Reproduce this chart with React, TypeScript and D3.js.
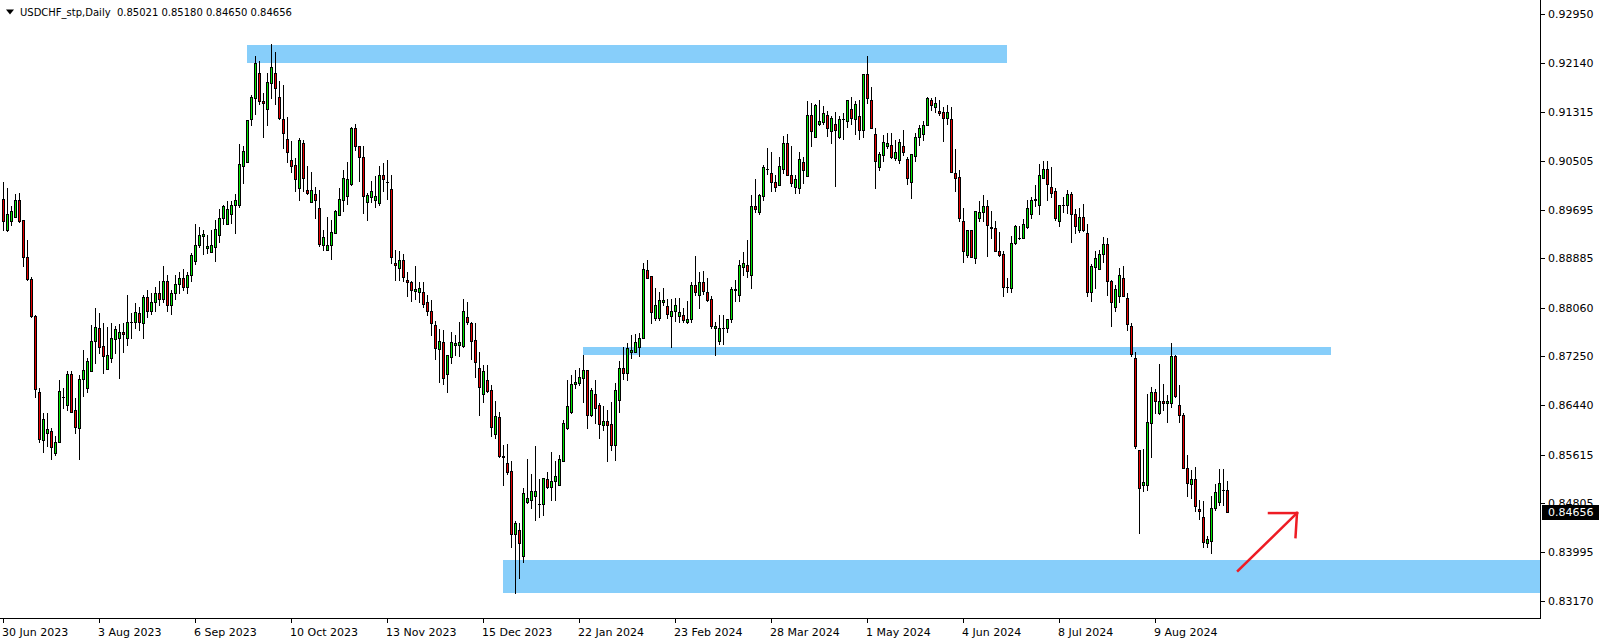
import * as d3 from "d3";

// USDCHF daily candles, 30 Jun 2023 .. early Sep 2024
const open = [
  0.8988, 0.8936, 0.8951, 0.8957, 0.8986, 0.8952, 0.889, 0.8854, 0.8793, 0.8665,
  0.8585, 0.8597, 0.86, 0.8564, 0.8583, 0.8657, 0.8644, 0.8696, 0.8635, 0.8606,
  0.8687, 0.8672, 0.87, 0.8751, 0.8772, 0.8743, 0.8704, 0.8722, 0.8754, 0.8756,
  0.8765, 0.8756, 0.8783, 0.8783, 0.8797, 0.8781, 0.8824, 0.88, 0.8815, 0.883,
  0.882, 0.885, 0.881, 0.883, 0.8845, 0.8855, 0.884, 0.886, 0.8884, 0.891,
  0.8925, 0.8905, 0.8899, 0.8908, 0.8928, 0.8955, 0.8946, 0.8963, 0.8977, 0.8977,
  0.9042, 0.9049, 0.912, 0.9155, 0.9197, 0.915, 0.9137, 0.918, 0.9197, 0.9158,
  0.9121, 0.9087, 0.9052, 0.9044, 0.9005, 0.9081, 0.9002, 0.8983, 0.8995, 0.8973,
  0.8911, 0.8903, 0.891, 0.893, 0.896, 0.8986, 0.8993, 0.9013, 0.9106, 0.9076,
  0.9058, 0.8983, 0.8991, 0.8986, 0.898, 0.9027, 0.9015, 0.9004, 0.8881, 0.8872,
  0.8885, 0.8853, 0.8849, 0.8834, 0.8832, 0.8832, 0.8816, 0.8801, 0.8777, 0.8737,
  0.8749, 0.8695, 0.8724, 0.8744, 0.8744, 0.8743, 0.879, 0.878, 0.8753, 0.8705,
  0.8662, 0.8686, 0.8669, 0.8596, 0.8624, 0.8559, 0.8547, 0.8534, 0.8429, 0.8436,
  0.8392, 0.8483, 0.8486, 0.8492, 0.8479, 0.8479, 0.852, 0.8507, 0.8517, 0.851,
  0.855, 0.8605, 0.8633, 0.8679, 0.8681, 0.8689, 0.8703, 0.8627, 0.8662, 0.8644,
  0.8611, 0.8618, 0.8612, 0.8577, 0.8652, 0.8705, 0.8697, 0.8732, 0.8733, 0.8741,
  0.8755, 0.8869, 0.8859, 0.8789, 0.8789, 0.8815, 0.8809, 0.8793, 0.88, 0.8793,
  0.8794, 0.8782, 0.8788, 0.8844, 0.8827, 0.8849, 0.8832, 0.8821, 0.8772, 0.875,
  0.8772, 0.8772, 0.8787, 0.8837, 0.8827, 0.8874, 0.8878, 0.886, 0.8976, 0.8965,
  0.8992, 0.9037, 0.903, 0.9015, 0.901, 0.9037, 0.908, 0.9028, 0.9008, 0.9005,
  0.9049, 0.9026, 0.9128, 0.9091, 0.9112, 0.9115, 0.9127, 0.91, 0.9113, 0.909,
  0.912, 0.9117, 0.9138, 0.912, 0.9126, 0.9103, 0.9196, 0.9152, 0.9095, 0.904,
  0.906, 0.9076, 0.9078, 0.9055, 0.9052, 0.9075, 0.9054, 0.9015, 0.9059, 0.909,
  0.9095, 0.9111, 0.9152, 0.9141, 0.9134, 0.9132, 0.9122, 0.9121, 0.903, 0.9024,
  0.8951, 0.8894, 0.8936, 0.8889, 0.8955, 0.8965, 0.8976, 0.894, 0.8939, 0.89,
  0.8895, 0.8841, 0.8839, 0.8914, 0.8923, 0.8923, 0.8941, 0.8963, 0.8985, 0.8977,
  0.9023, 0.9037, 0.9007, 0.9001, 0.8951, 0.8977, 0.8977, 0.8996, 0.8963, 0.8935,
  0.8957, 0.893, 0.8833, 0.8874, 0.887, 0.8895, 0.8912, 0.8851, 0.8808, 0.8825,
  0.8855, 0.8822, 0.8776, 0.8723, 0.8569, 0.8511, 0.851, 0.8614, 0.8666, 0.8631,
  0.8651, 0.8647, 0.8647, 0.8726, 0.8644, 0.8627, 0.8539, 0.8513, 0.852, 0.847,
  0.8457, 0.8414, 0.8418, 0.8472, 0.8482, 0.8502, 0.85021,
];
const high = [
  0.9016, 0.9005, 0.8975, 0.8996, 0.8998, 0.8952, 0.8919, 0.8857, 0.8794, 0.8672,
  0.863, 0.863, 0.8605, 0.8592, 0.8685, 0.8672, 0.87, 0.87, 0.8655, 0.8694,
  0.8736, 0.8722, 0.8778, 0.8806, 0.8798, 0.8781, 0.8774, 0.8781, 0.8775, 0.8779,
  0.8781, 0.8828, 0.8798, 0.8814, 0.8807, 0.8828, 0.8835, 0.883, 0.884, 0.885,
  0.8875, 0.886, 0.8835, 0.886, 0.8865, 0.887, 0.8865, 0.8897, 0.8946, 0.894,
  0.8936, 0.8928, 0.8935, 0.8953, 0.8971, 0.8978, 0.8984, 0.8984, 0.8996, 0.9079,
  0.9075, 0.9119, 0.916, 0.9225, 0.9217, 0.9164, 0.9197, 0.9246, 0.9233, 0.9184,
  0.9177, 0.9124, 0.9084, 0.9056, 0.9089, 0.9085, 0.9042, 0.9032, 0.9008, 0.9002,
  0.8935, 0.8957, 0.8952, 0.8969, 0.9006, 0.9036, 0.9049, 0.9107, 0.9112, 0.9076,
  0.9076, 0.8997, 0.9017, 0.9025, 0.9042, 0.9047, 0.9052, 0.9027, 0.8903, 0.89,
  0.8895, 0.8866, 0.885, 0.8876, 0.8849, 0.8849, 0.8828, 0.8819, 0.8784, 0.8771,
  0.8769, 0.8727, 0.8765, 0.8761, 0.8782, 0.8821, 0.8815, 0.8782, 0.878, 0.8733,
  0.8711, 0.8711, 0.8678, 0.8651, 0.8633, 0.8578, 0.8579, 0.855, 0.8451, 0.8447,
  0.8505, 0.8554, 0.8529, 0.8575, 0.8521, 0.8523, 0.8533, 0.8565, 0.8551, 0.8561,
  0.8619, 0.8686, 0.8694, 0.8703, 0.8705, 0.8728, 0.8703, 0.8672, 0.8686, 0.8647,
  0.8642, 0.8636, 0.8649, 0.868, 0.8718, 0.874, 0.8747, 0.8761, 0.8762, 0.8764,
  0.888, 0.8886, 0.8859, 0.8839, 0.8833, 0.8839, 0.8821, 0.8821, 0.8823, 0.8823,
  0.8805, 0.8817, 0.8849, 0.8892, 0.8865, 0.8867, 0.8855, 0.8826, 0.8782, 0.8794,
  0.8794, 0.8788, 0.884, 0.8853, 0.8885, 0.8899, 0.8919, 0.8994, 0.902, 0.8996,
  0.9044, 0.9072, 0.9066, 0.9027, 0.9058, 0.9092, 0.9096, 0.9076, 0.9027, 0.9066,
  0.9057, 0.915, 0.9148, 0.9146, 0.9152, 0.9142, 0.9134, 0.9126, 0.9133, 0.9126,
  0.9131, 0.9153, 0.9157, 0.915, 0.9153, 0.9196, 0.9226, 0.9174, 0.9105, 0.9066,
  0.9094, 0.9097, 0.9098, 0.9086, 0.9088, 0.9102, 0.9058, 0.9063, 0.9098, 0.911,
  0.9117, 0.9158, 0.9156, 0.9158, 0.9152, 0.9141, 0.9144, 0.9141, 0.9071, 0.9036,
  0.8972, 0.8936, 0.8936, 0.8967, 0.8984, 0.8994, 0.8986, 0.8967, 0.895, 0.8933,
  0.8901, 0.8855, 0.8926, 0.8944, 0.8943, 0.8954, 0.8985, 0.899, 0.9011, 0.9046,
  0.9051, 0.9051, 0.9041, 0.9005, 0.8977, 0.8991, 0.9002, 0.8999, 0.897, 0.8972,
  0.8979, 0.8946, 0.8879, 0.8901, 0.8902, 0.8924, 0.8922, 0.8853, 0.8844, 0.8872,
  0.8876, 0.883, 0.878, 0.8733, 0.8569, 0.8571, 0.8662, 0.8674, 0.867, 0.8712,
  0.8679, 0.866, 0.8748, 0.8728, 0.8677, 0.863, 0.8561, 0.8535, 0.8541, 0.8486,
  0.8484, 0.8426, 0.8493, 0.8512, 0.8537, 0.8537, 0.8518,
];
const low = [
  0.8936, 0.8934, 0.8944, 0.8957, 0.8949, 0.8875, 0.8852, 0.8791, 0.8658, 0.8582,
  0.8565, 0.8576, 0.8554, 0.8561, 0.8583, 0.8639, 0.8636, 0.8633, 0.8597, 0.8554,
  0.8659, 0.8665, 0.87, 0.8714, 0.8731, 0.8698, 0.8704, 0.8716, 0.8731, 0.8689,
  0.8733, 0.8744, 0.8756, 0.8772, 0.8769, 0.8756, 0.879, 0.8795, 0.88, 0.881,
  0.8815, 0.88, 0.8795, 0.882, 0.883, 0.8835, 0.883, 0.885, 0.8879, 0.8907,
  0.8895, 0.8898, 0.8899, 0.8884, 0.8915, 0.8945, 0.8946, 0.8948, 0.8931, 0.8974,
  0.9014, 0.9049, 0.9111, 0.9129, 0.9146, 0.9091, 0.911, 0.9155, 0.9145, 0.9121,
  0.9072, 0.9049, 0.9033, 0.9001, 0.8986, 0.9001, 0.8995, 0.8983, 0.8955, 0.8909,
  0.8902, 0.8903, 0.8888, 0.893, 0.896, 0.8968, 0.8979, 0.901, 0.9069, 0.9018,
  0.8964, 0.8953, 0.8983, 0.8974, 0.8977, 0.9001, 0.8988, 0.8881, 0.8853, 0.8853,
  0.8851, 0.8825, 0.8818, 0.882, 0.8816, 0.8808, 0.8794, 0.8761, 0.8721, 0.8683,
  0.8679, 0.8665, 0.8714, 0.8727, 0.8726, 0.874, 0.8779, 0.8721, 0.869, 0.8628,
  0.8649, 0.8666, 0.8592, 0.8589, 0.8558, 0.8511, 0.8529, 0.8407, 0.8331, 0.8356,
  0.8383, 0.8481, 0.8473, 0.8453, 0.8458, 0.846, 0.8506, 0.8486, 0.8486, 0.851,
  0.855, 0.8604, 0.863, 0.8672, 0.8678, 0.8649, 0.8605, 0.8626, 0.8614, 0.8589,
  0.8603, 0.855, 0.8569, 0.8553, 0.8632, 0.8688, 0.8686, 0.8722, 0.8732, 0.8725,
  0.8755, 0.8855, 0.8781, 0.8786, 0.8786, 0.8811, 0.8789, 0.8741, 0.8784, 0.8783,
  0.8782, 0.878, 0.8782, 0.8827, 0.8805, 0.8829, 0.8817, 0.8772, 0.8728, 0.8746,
  0.8746, 0.8765, 0.8782, 0.8818, 0.8817, 0.8861, 0.8858, 0.8839, 0.8965, 0.8962,
  0.8985, 0.9029, 0.9, 0.9001, 0.901, 0.903, 0.9027, 0.9009, 0.8998, 0.8998,
  0.9014, 0.9025, 0.9075, 0.909, 0.9111, 0.9112, 0.9092, 0.9081, 0.9009, 0.9089,
  0.9087, 0.9108, 0.9112, 0.9096, 0.9088, 0.9091, 0.9147, 0.9105, 0.9006, 0.9036,
  0.9051, 0.9073, 0.9056, 0.9052, 0.9048, 0.9061, 0.9013, 0.8989, 0.905, 0.9078,
  0.9086, 0.911, 0.9136, 0.9133, 0.9128, 0.9084, 0.9112, 0.9032, 0.9001, 0.8951,
  0.8883, 0.8891, 0.8891, 0.888, 0.895, 0.895, 0.8893, 0.8922, 0.89, 0.8893,
  0.8826, 0.8833, 0.8832, 0.8912, 0.8921, 0.8923, 0.8939, 0.8956, 0.8976, 0.8962,
  0.9022, 0.8985, 0.8991, 0.8952, 0.8943, 0.8965, 0.8964, 0.8915, 0.8931, 0.8933,
  0.8934, 0.8826, 0.8818, 0.8839, 0.887, 0.8883, 0.8828, 0.8776, 0.88, 0.8816,
  0.8825, 0.8769, 0.8726, 0.8572, 0.843, 0.85, 0.8502, 0.8558, 0.8631, 0.8629,
  0.8636, 0.8615, 0.864, 0.8658, 0.8615, 0.8539, 0.8493, 0.8489, 0.8468, 0.8454,
  0.8407, 0.8408, 0.8398, 0.8469, 0.8478, 0.8477, 0.8465,
];
const close = [
  0.895, 0.8962, 0.8968, 0.8986, 0.8951, 0.8891, 0.8854, 0.8793, 0.867, 0.8587,
  0.862, 0.8604, 0.8574, 0.8583, 0.8668, 0.8657, 0.8696, 0.8633, 0.8607, 0.8687,
  0.8703, 0.8718, 0.875, 0.8774, 0.874, 0.8726, 0.8728, 0.8755, 0.877, 0.8765,
  0.8762, 0.8782, 0.8783, 0.8799, 0.8783, 0.8824, 0.88, 0.8815, 0.883, 0.882,
  0.885, 0.881, 0.883, 0.8845, 0.8855, 0.884, 0.886, 0.8894, 0.891, 0.8927,
  0.8929, 0.8909, 0.8911, 0.8938, 0.8956, 0.8975, 0.8971, 0.8978, 0.8985, 0.9046,
  0.9067, 0.9119, 0.9157, 0.9214, 0.915, 0.9147, 0.9182, 0.9208, 0.9173, 0.9122,
  0.9098, 0.9065, 0.9043, 0.902, 0.9085, 0.9022, 0.8998, 0.9002, 0.8986, 0.8913,
  0.8924, 0.891, 0.8932, 0.8967, 0.8987, 0.9023, 0.902, 0.9106, 0.9076, 0.9058,
  0.8993, 0.8994, 0.9, 0.8992, 0.9028, 0.9021, 0.9015, 0.889, 0.8878, 0.8886,
  0.8857, 0.8849, 0.8835, 0.8837, 0.8839, 0.8813, 0.8801, 0.878, 0.8739, 0.8751,
  0.8689, 0.8727, 0.8749, 0.8747, 0.8749, 0.8801, 0.8782, 0.8751, 0.8715, 0.8674,
  0.8701, 0.8668, 0.8607, 0.8626, 0.8559, 0.8557, 0.8533, 0.8429, 0.8447, 0.8414,
  0.8497, 0.8489, 0.8501, 0.8501, 0.8479, 0.8522, 0.8507, 0.8517, 0.8525, 0.8554,
  0.8614, 0.8643, 0.8679, 0.8682, 0.869, 0.8703, 0.8627, 0.8669, 0.8639, 0.8612,
  0.8618, 0.8611, 0.8577, 0.8669, 0.8705, 0.8697, 0.8739, 0.8735, 0.8749, 0.8755,
  0.8871, 0.8856, 0.8799, 0.8811, 0.8819, 0.8819, 0.8795, 0.8801, 0.8811, 0.8799,
  0.8785, 0.8788, 0.8844, 0.8832, 0.8849, 0.8834, 0.8819, 0.8775, 0.8776, 0.8772,
  0.8772, 0.8787, 0.8837, 0.8835, 0.8878, 0.888, 0.8868, 0.8976, 0.8971, 0.8994,
  0.904, 0.9037, 0.9015, 0.9008, 0.9042, 0.908, 0.9027, 0.9014, 0.9021, 0.9054,
  0.9035, 0.9128, 0.91, 0.9144, 0.9117, 0.913, 0.9106, 0.9123, 0.9103, 0.912,
  0.912, 0.9152, 0.9122, 0.9146, 0.9103, 0.9196, 0.9156, 0.9105, 0.905, 0.9063,
  0.9083, 0.908, 0.9058, 0.9065, 0.9082, 0.9065, 0.9022, 0.9062, 0.909, 0.9105,
  0.911, 0.9156, 0.9144, 0.9147, 0.913, 0.9123, 0.9132, 0.9033, 0.9022, 0.8956,
  0.8901, 0.8936, 0.8891, 0.8967, 0.8965, 0.8976, 0.8944, 0.8939, 0.89, 0.8894,
  0.884, 0.8841, 0.8914, 0.8942, 0.8923, 0.8945, 0.8973, 0.8986, 0.8987, 0.9027,
  0.9038, 0.9012, 0.8998, 0.8956, 0.8977, 0.8977, 0.8996, 0.8963, 0.8943, 0.8957,
  0.8935, 0.8833, 0.8876, 0.8889, 0.8895, 0.8912, 0.885, 0.8815, 0.8837, 0.8861,
  0.8825, 0.8779, 0.8729, 0.8576, 0.8505, 0.8515, 0.8615, 0.8666, 0.865, 0.8651,
  0.8647, 0.8651, 0.8726, 0.8659, 0.8627, 0.8539, 0.8514, 0.852, 0.8475, 0.8468,
  0.8416, 0.8421, 0.8472, 0.8499, 0.8514, 0.8502, 0.84656,
];

const symbol = "USDCHF_stp,Daily";

// one label every 24 bars, starting at bar 0
const dateLabels = [
  "30 Jun 2023", "3 Aug 2023", "6 Sep 2023", "10 Oct 2023", "13 Nov 2023",
  "15 Dec 2023", "22 Jan 2024", "23 Feb 2024", "28 Mar 2024", "1 May 2024",
  "4 Jun 2024", "8 Jul 2024", "9 Aug 2024",
];
const dateStep = 24;

const priceLabels = [
  0.9295, 0.9214, 0.91315, 0.90505, 0.89695, 0.88885, 0.8806, 0.8725, 0.8644,
  0.85615, 0.84805, 0.83995, 0.8317,
];

// rectangles drawn on the chart: bar index range and price range
const zoneFrom = [61, 145, 125];
const zoneTo = [251, 332, 420];
const zoneTop = [0.92444, 0.87407, 0.83859];
const zoneBottom = [0.92144, 0.87269, 0.83304];

// red arrow: start and tip as (bar, price)
const arrowBars = [308.75, 323.5];
const arrowPrices = [0.8368, 0.8464];

const W = 1604;
const H = 644;
const plotRight = 1540;
const plotBottom = 618;
const font = "'DejaVu Sans', Verdana, sans-serif";

const App = () => {
  // 4px per bar, first bar centred on pixel column 3
  const x = d3.scaleLinear().domain([0, 1]).range([3, 7]);
  const y = d3.scaleLinear().domain([0.8317, 0.9295]).range([601.3, 14.3]);

  const last = close.length - 1;
  const header = `${symbol}  ${open[last].toFixed(5)} ${high[last].toFixed(5)} ${low[last].toFixed(5)} ${close[last].toFixed(5)}`;

  const candles = open.map((o, i) => {
    const c = close[i];
    const cx = Math.round(x(i));
    const yH = Math.round(y(high[i]));
    const yL = Math.round(y(low[i]));
    const yO = Math.round(y(o));
    const yC = Math.round(y(c));
    const top = Math.min(yO, yC);
    const bot = Math.max(yO, yC);
    const bull = c >= o;
    return (
      <g key={i}>
        <line x1={cx + 0.5} x2={cx + 0.5} y1={yH} y2={yL + 1} stroke="#000" />
        {bot - top < 1 ? (
          <line x1={cx - 1} x2={cx + 2} y1={top + 0.5} y2={top + 0.5} stroke="#000" />
        ) : (
          <rect
            x={cx - 0.5}
            y={top + 0.5}
            width={2}
            height={bot - top}
            fill={bull ? "#00e600" : "#e60000"}
            stroke="#000"
          />
        )}
      </g>
    );
  });

  const ax = x(arrowBars[0]);
  const ay = y(arrowPrices[0]);
  const tx = x(arrowBars[1]);
  const ty = y(arrowPrices[1]);

  const lastY = Math.round(y(close[last]));

  return (
    <svg
      width={W}
      height={H}
      style={{ position: "absolute", left: 0, top: 0, background: "#fff" }}
      fontFamily={font}
      fontSize={11}
      shapeRendering="crispEdges"
    >
      <defs>
        <clipPath id="plot">
          <rect x={0} y={0} width={plotRight} height={plotBottom} />
        </clipPath>
      </defs>

      <g clipPath="url(#plot)">
        {zoneFrom.map((f, k) => (
          <rect
            key={k}
            x={x(f)}
            y={Math.round(y(zoneTop[k]))}
            width={x(zoneTo[k]) - x(f)}
            height={Math.round(y(zoneBottom[k])) - Math.round(y(zoneTop[k]))}
            fill="#87cefa"
          />
        ))}
        {candles}
        <g stroke="#ee1c24" strokeWidth={2.5} fill="none" shapeRendering="auto" strokeLinecap="square">
          <line x1={ax} y1={ay} x2={tx} y2={ty} />
          <line x1={tx - 28} y1={ty} x2={tx} y2={ty} />
          <line x1={tx} y1={ty} x2={tx - 1.5} y2={ty + 24} />
        </g>
      </g>

      {/* frame */}
      <g stroke="#000" fill="none">
        <line x1={plotRight + 0.5} x2={plotRight + 0.5} y1={0} y2={plotBottom + 1} />
        <line x1={0} x2={plotRight + 1} y1={plotBottom + 0.5} y2={plotBottom + 0.5} />
      </g>

      {/* header */}
      <polygon points="6,9.5 14,9.5 10,14.5" fill="#000" shapeRendering="auto" />
      <text x={20} y={12.5} dy="0.35em" fontSize={10} fill="#000" style={{ whiteSpace: "pre" }}>
        {header}
      </text>

      {/* price axis */}
      {priceLabels.map((p) => {
        const py = Math.round(y(p));
        return (
          <g key={p}>
            <line x1={plotRight + 1} x2={plotRight + 5} y1={py + 0.5} y2={py + 0.5} stroke="#000" />
            <text x={plotRight + 8} y={py + 0.5} dy="0.35em" fill="#000">
              {p.toFixed(5)}
            </text>
          </g>
        );
      })}
      <rect x={plotRight + 2} y={lastY - 7} width={57} height={15} fill="#000" />
      <text x={plotRight + 8} y={lastY + 0.5} dy="0.35em" fill="#fff">
        {close[last].toFixed(5)}
      </text>

      {/* time axis */}
      {dateLabels.map((d, k) => {
        const tx0 = Math.round(x(k * dateStep));
        return (
          <g key={d}>
            <line x1={tx0 + 0.5} x2={tx0 + 0.5} y1={plotBottom} y2={plotBottom + 5} stroke="#000" />
            <text x={tx0 - 1} y={632} dy="0.35em" fill="#000">
              {d}
            </text>
          </g>
        );
      })}
    </svg>
  );
};

export default App;
